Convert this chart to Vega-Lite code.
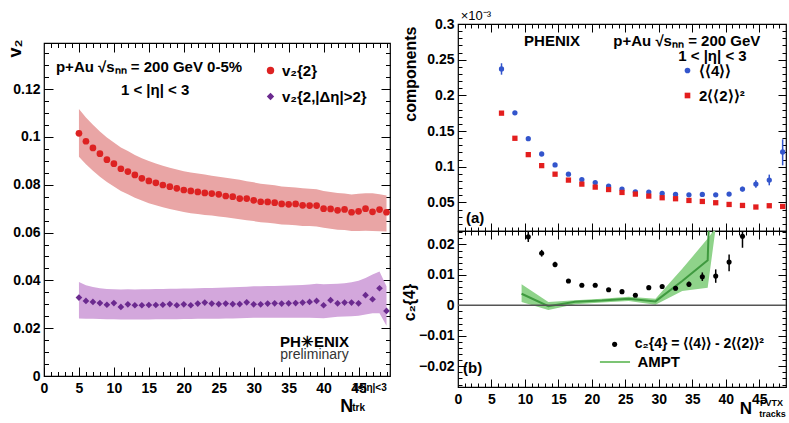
{
"$schema":"https://vega.github.io/schema/vega-lite/v6.json",
"background":"white",
"padding":{"left":5,"top":9,"right":0,"bottom":0},
"config":{
 "view":{"stroke":"#000","strokeWidth":1.2},
 "font":"Liberation Sans",
 "axis":{"domain":false,"grid":false,"tickColor":"#000","tickWidth":1,"labelFont":"Liberation Sans","labelFontSize":14,"labelFontWeight":"bold","labelColor":"#000","titleFont":"Liberation Sans","titleFontWeight":"bold","titleColor":"#000","titleFontSize":16,"labelFlush":false,"labelOverlap":false},
 "legend":{"labelFont":"Liberation Sans","labelFontSize":15,"labelFontWeight":"bold","labelColor":"#000","padding":0},
 "text":{"font":"Liberation Sans","fontWeight":"bold","fontSize":15,"color":"#000"}
},
"datasets":{
"v2":[
{"n":5,"s":"a","v":0.1015,"lo":0.0917,"hi":0.1117},{"n":6,"s":"a","v":0.0982,"lo":0.0886,"hi":0.1081},{"n":7,"s":"a","v":0.0954,"lo":0.0859,"hi":0.1051},{"n":8,"s":"a","v":0.0930,"lo":0.0834,"hi":0.1023},{"n":9,"s":"a","v":0.0905,"lo":0.0812,"hi":0.0998},{"n":10,"s":"a","v":0.0888,"lo":0.0793,"hi":0.0977},{"n":11,"s":"a","v":0.0867,"lo":0.0774,"hi":0.0956},{"n":12,"s":"a","v":0.0855,"lo":0.0760,"hi":0.0941},{"n":13,"s":"a","v":0.0841,"lo":0.0746,"hi":0.0925},{"n":14,"s":"a","v":0.0827,"lo":0.0734,"hi":0.0911},{"n":15,"s":"a","v":0.0816,"lo":0.0723,"hi":0.0899},{"n":16,"s":"a","v":0.0808,"lo":0.0714,"hi":0.0889},{"n":17,"s":"a","v":0.0799,"lo":0.0706,"hi":0.0879},{"n":18,"s":"a","v":0.0792,"lo":0.0699,"hi":0.0871},{"n":19,"s":"a","v":0.0785,"lo":0.0692,"hi":0.0864},{"n":20,"s":"a","v":0.0778,"lo":0.0686,"hi":0.0857},{"n":21,"s":"a","v":0.0774,"lo":0.0681,"hi":0.0851},{"n":22,"s":"a","v":0.0770,"lo":0.0678,"hi":0.0847},{"n":23,"s":"a","v":0.0766,"lo":0.0674,"hi":0.0843},{"n":24,"s":"a","v":0.0763,"lo":0.0671,"hi":0.0838},{"n":25,"s":"a","v":0.0760,"lo":0.0667,"hi":0.0834},{"n":26,"s":"a","v":0.0753,"lo":0.0664,"hi":0.0829},{"n":27,"s":"a","v":0.0750,"lo":0.0660,"hi":0.0825},{"n":28,"s":"a","v":0.0742,"lo":0.0656,"hi":0.0821},{"n":29,"s":"a","v":0.0742,"lo":0.0652,"hi":0.0815},{"n":30,"s":"a","v":0.0735,"lo":0.0648,"hi":0.0810},{"n":31,"s":"a","v":0.0729,"lo":0.0643,"hi":0.0804},{"n":32,"s":"a","v":0.0728,"lo":0.0641,"hi":0.0801},{"n":33,"s":"a","v":0.0725,"lo":0.0638,"hi":0.0798},{"n":34,"s":"a","v":0.0720,"lo":0.0634,"hi":0.0793},{"n":35,"s":"a","v":0.0718,"lo":0.0633,"hi":0.0791},{"n":36,"s":"a","v":0.0720,"lo":0.0631,"hi":0.0789},{"n":37,"s":"a","v":0.0714,"lo":0.0628,"hi":0.0785},{"n":38,"s":"a","v":0.0713,"lo":0.0627,"hi":0.0783},{"n":39,"s":"a","v":0.0713,"lo":0.0625,"hi":0.0781},{"n":40,"s":"a","v":0.0700,"lo":0.0620,"hi":0.0774},{"n":41,"s":"a","v":0.0699,"lo":0.0616,"hi":0.0770},{"n":42,"s":"a","v":0.0693,"lo":0.0612,"hi":0.0766},{"n":43,"s":"a","v":0.0697,"lo":0.0611,"hi":0.0763},{"n":44,"s":"a","v":0.0685,"lo":0.0607,"hi":0.0759},{"n":45,"s":"a","v":0.0689,"lo":0.0607,"hi":0.0762},{"n":46,"s":"a","v":0.0700,"lo":0.0608,"hi":0.0765},{"n":47,"s":"a","v":0.0687,"lo":0.0607,"hi":0.0764},{"n":48,"s":"a","v":0.0696,"lo":0.0606,"hi":0.0760},{"n":49,"s":"a","v":0.0685,"lo":0.0604,"hi":0.0755},
{"n":5,"s":"b","v":0.0328,"lo":0.0241,"hi":0.0393},{"n":6,"s":"b","v":0.0314,"lo":0.0240,"hi":0.0380},{"n":7,"s":"b","v":0.0310,"lo":0.0239,"hi":0.0372},{"n":8,"s":"b","v":0.0305,"lo":0.0238,"hi":0.0367},{"n":9,"s":"b","v":0.0298,"lo":0.0237,"hi":0.0364},{"n":10,"s":"b","v":0.0305,"lo":0.0237,"hi":0.0363},{"n":11,"s":"b","v":0.0289,"lo":0.0236,"hi":0.0362},{"n":12,"s":"b","v":0.0300,"lo":0.0236,"hi":0.0363},{"n":13,"s":"b","v":0.0296,"lo":0.0236,"hi":0.0362},{"n":14,"s":"b","v":0.0296,"lo":0.0236,"hi":0.0363},{"n":15,"s":"b","v":0.0297,"lo":0.0236,"hi":0.0363},{"n":16,"s":"b","v":0.0297,"lo":0.0237,"hi":0.0364},{"n":17,"s":"b","v":0.0298,"lo":0.0237,"hi":0.0364},{"n":18,"s":"b","v":0.0301,"lo":0.0237,"hi":0.0365},{"n":19,"s":"b","v":0.0296,"lo":0.0237,"hi":0.0365},{"n":20,"s":"b","v":0.0300,"lo":0.0238,"hi":0.0366},{"n":21,"s":"b","v":0.0296,"lo":0.0238,"hi":0.0366},{"n":22,"s":"b","v":0.0303,"lo":0.0239,"hi":0.0367},{"n":23,"s":"b","v":0.0307,"lo":0.0239,"hi":0.0368},{"n":24,"s":"b","v":0.0303,"lo":0.0240,"hi":0.0368},{"n":25,"s":"b","v":0.0301,"lo":0.0240,"hi":0.0369},{"n":26,"s":"b","v":0.0303,"lo":0.0241,"hi":0.0370},{"n":27,"s":"b","v":0.0301,"lo":0.0241,"hi":0.0371},{"n":28,"s":"b","v":0.0301,"lo":0.0242,"hi":0.0372},{"n":29,"s":"b","v":0.0308,"lo":0.0243,"hi":0.0373},{"n":30,"s":"b","v":0.0300,"lo":0.0244,"hi":0.0375},{"n":31,"s":"b","v":0.0300,"lo":0.0244,"hi":0.0375},{"n":32,"s":"b","v":0.0303,"lo":0.0244,"hi":0.0376},{"n":33,"s":"b","v":0.0304,"lo":0.0244,"hi":0.0377},{"n":34,"s":"b","v":0.0303,"lo":0.0244,"hi":0.0378},{"n":35,"s":"b","v":0.0304,"lo":0.0244,"hi":0.0379},{"n":36,"s":"b","v":0.0305,"lo":0.0244,"hi":0.0380},{"n":37,"s":"b","v":0.0307,"lo":0.0244,"hi":0.0381},{"n":38,"s":"b","v":0.0310,"lo":0.0244,"hi":0.0383},{"n":39,"s":"b","v":0.0314,"lo":0.0243,"hi":0.0386},{"n":40,"s":"b","v":0.0296,"lo":0.0242,"hi":0.0384},{"n":41,"s":"b","v":0.0317,"lo":0.0245,"hi":0.0385},{"n":42,"s":"b","v":0.0304,"lo":0.0248,"hi":0.0386},{"n":43,"s":"b","v":0.0307,"lo":0.0249,"hi":0.0388},{"n":44,"s":"b","v":0.0307,"lo":0.0250,"hi":0.0392},{"n":45,"s":"b","v":0.0304,"lo":0.0252,"hi":0.0398},{"n":46,"s":"b","v":0.0338,"lo":0.0257,"hi":0.0410},{"n":47,"s":"b","v":0.0321,"lo":0.0262,"hi":0.0425},{"n":48,"s":"b","v":0.0367,"lo":0.0262,"hi":0.0437},{"n":49,"s":"b","v":0.0272,"lo":0.0210,"hi":0.0375}
],
"comp":[
{"n":6.5,"s":"a","v":0.237,"lo":0.229,"hi":0.245},{"n":8.5,"s":"a","v":0.1756,"lo":0.173,"hi":0.178},{"n":10.5,"s":"a","v":0.1393},{"n":12.5,"s":"a","v":0.1179},{"n":14.5,"s":"a","v":0.1026},{"n":16.5,"s":"a","v":0.0896},{"n":18.5,"s":"a","v":0.0821},{"n":20.5,"s":"a","v":0.0779},{"n":22.5,"s":"a","v":0.0729},{"n":24.5,"s":"a","v":0.0687},{"n":26.5,"s":"a","v":0.0649},{"n":28.5,"s":"a","v":0.0645},{"n":30.5,"s":"a","v":0.0626},{"n":32.5,"s":"a","v":0.0612},{"n":34.5,"s":"a","v":0.0607},{"n":36.5,"s":"a","v":0.0613},{"n":38.5,"s":"a","v":0.0607},{"n":40.5,"s":"a","v":0.0617},{"n":42.5,"s":"a","v":0.0687,"lo":0.0655,"hi":0.072},{"n":44.5,"s":"a","v":0.0757,"lo":0.0705,"hi":0.081},{"n":46.5,"s":"a","v":0.0813,"lo":0.074,"hi":0.089},{"n":48.5,"s":"a","v":0.1207,"lo":0.102,"hi":0.1385},
{"n":6.5,"s":"b","v":0.1751},{"n":8.5,"s":"b","v":0.1399},{"n":10.5,"s":"b","v":0.117},{"n":12.5,"s":"b","v":0.1016},{"n":14.5,"s":"b","v":0.0896},{"n":16.5,"s":"b","v":0.0813},{"n":18.5,"s":"b","v":0.0757},{"n":20.5,"s":"b","v":0.0715},{"n":22.5,"s":"b","v":0.0681},{"n":24.5,"s":"b","v":0.064},{"n":26.5,"s":"b","v":0.0617},{"n":28.5,"s":"b","v":0.0589},{"n":30.5,"s":"b","v":0.0566},{"n":32.5,"s":"b","v":0.0552},{"n":34.5,"s":"b","v":0.0528},{"n":36.5,"s":"b","v":0.0514},{"n":38.5,"s":"b","v":0.0496},{"n":40.5,"s":"b","v":0.0472},{"n":42.5,"s":"b","v":0.0458},{"n":44.5,"s":"b","v":0.0436},{"n":46.5,"s":"b","v":0.0454},{"n":48.5,"s":"b","v":0.0444}
],
"c24":[
{"n":10.5,"v":0.0225,"lo":0.0208,"hi":0.0244},{"n":12.5,"v":0.0171,"lo":0.016,"hi":0.0182},{"n":14.5,"v":0.0134,"lo":0.0125,"hi":0.0143},{"n":16.5,"v":0.008,"lo":0.0075,"hi":0.0085},{"n":18.5,"v":0.0066},{"n":20.5,"v":0.0066},{"n":22.5,"v":0.0051},{"n":24.5,"v":0.0045},{"n":26.5,"v":0.0033},{"n":28.5,"v":0.0058},{"n":30.5,"v":0.0062},{"n":32.5,"v":0.0056,"lo":0.0049,"hi":0.0063},{"n":34.5,"v":0.0069,"lo":0.006,"hi":0.0078},{"n":36.5,"v":0.0094,"lo":0.008,"hi":0.0108},{"n":38.5,"v":0.0096,"lo":0.0074,"hi":0.0118},{"n":40.5,"v":0.0142,"lo":0.0112,"hi":0.0167},{"n":42.5,"v":0.0227,"lo":0.0189,"hi":0.026}
],
"ampt":[
{"n":9.5,"v":0.0038,"lo":0.0011,"hi":0.0069},{"n":13.5,"v":-0.0003,"lo":-0.0015,"hi":0.0011},{"n":17.5,"v":0.0012,"lo":0.0004,"hi":0.0017},{"n":21.5,"v":0.0016,"lo":0.0009,"hi":0.0022},{"n":25.5,"v":0.0022,"lo":0.0014,"hi":0.0028},{"n":29.5,"v":0.0013,"lo":0.0002,"hi":0.0022},{"n":33.5,"v":0.008,"lo":0.0047,"hi":0.012},{"n":37.3,"v":0.0148,"lo":0.0058,"hi":0.0219},{"n":37.6,"v":0.035},{"n":38.5,"lo":0.0255,"hi":0.0255}
]
},
"spacing":8,
"resolve":{"scale":{"color":"independent","shape":"independent"}},
"hconcat":[
{"spacing":0,"bounds":"flush","vconcat":[
 {"width":346,"height":19,"data":{"values":[]},"mark":"point","view":{"stroke":null}},
 {"width":346,"height":333,
  "resolve":{"axis":{"x":"independent","y":"independent"}},
  "layer":[
   {"data":{"name":"v2"},"transform":[{"filter":"datum.s=='b'"}],"mark":{"type":"area","color":"#d3a7dc","opacity":1,"clip":true},
    "encoding":{"x":{"field":"n","type":"quantitative","scale":{"domain":[0,49.5],"nice":false,"zero":false},"axis":{"orient":"bottom","values":[0,5,10,15,20,25,30,35,40,45],"ticks":false,"labelPadding":5,"title":null,"format":"~g"}},
     "y":{"field":"lo","type":"quantitative","scale":{"domain":[0,0.1393],"nice":false,"zero":false},"axis":{"orient":"left","values":[0,0.02,0.04,0.06,0.08,0.1,0.12],"ticks":false,"labelPadding":4,"format":"~g","title":"v₂","titleAngle":270,"titleX":-29,"titleY":-4,"titleAlign":"right","titleBaseline":"middle","titleFontSize":18}},
     "y2":{"field":"hi"}}},
   {"data":{"name":"v2"},"transform":[{"filter":"datum.s=='a'"}],"mark":{"type":"area","color":"#e9a5a5","opacity":1,"clip":true},
    "encoding":{"x":{"field":"n","type":"quantitative","axis":null},"y":{"field":"lo","type":"quantitative","axis":null},"y2":{"field":"hi"}}},
   {"data":{"name":"v2"},"mark":{"type":"point","filled":true,"opacity":1,"size":45},
    "encoding":{"x":{"field":"n","type":"quantitative","axis":{"orient":"bottom","values":[0,5,10,15,20,25,30,35,40,45],"labels":false,"tickSize":-9,"title":null}},
     "y":{"field":"v","type":"quantitative","axis":{"orient":"left","values":[0.02,0.04,0.06,0.08,0.1,0.12],"labels":false,"tickSize":-9,"title":null}},
     "color":{"field":"s","type":"nominal","scale":{"domain":["a","b"],"range":["#dd2222","#6b2a8f"]},"legend":{"title":null,"orient":"none","legendX":219,"legendY":39,"symbolSize":55,"rowPadding":10,"symbolStrokeWidth":0,"labelExpr":"datum.label=='a'?'v₂{2}':'v₂{2,|Δη|>2}'"}},
     "shape":{"field":"s","type":"nominal","scale":{"domain":["a","b"],"range":["circle","diamond"]},"legend":{"title":null,"orient":"none","legendX":219,"legendY":39,"symbolSize":55,"rowPadding":10,"symbolStrokeWidth":0,"labelExpr":"datum.label=='a'?'v₂{2}':'v₂{2,|Δη|>2}'"}}}},
   {"data":{"name":"v2"},"mark":{"type":"point","opacity":0},
    "encoding":{"x":{"field":"n","type":"quantitative","axis":{"orient":"bottom","values":[1,2,3,4,6,7,8,9,11,12,13,14,16,17,18,19,21,22,23,24,26,27,28,29,31,32,33,34,36,37,38,39,41,42,43,44,46,47,48,49],"labels":false,"tickSize":-4.5,"title":null}},
     "y":{"field":"v","type":"quantitative","axis":{"orient":"left","values":[0.005,0.01,0.015,0.025,0.03,0.035,0.045,0.05,0.055,0.065,0.07,0.075,0.085,0.09,0.095,0.105,0.11,0.115,0.125,0.13,0.135],"labels":false,"tickSize":-4.5,"title":null}}}},
   {"data":{"name":"v2"},"mark":{"type":"point","opacity":0},
    "encoding":{"x":{"field":"n","type":"quantitative","axis":{"orient":"top","values":[5,10,15,20,25,30,35,40,45],"labels":false,"tickSize":-9,"title":null}},
     "y":{"field":"v","type":"quantitative","axis":{"orient":"right","values":[0.02,0.04,0.06,0.08,0.1,0.12],"labels":false,"tickSize":-9,"title":null}}}},
   {"data":{"name":"v2"},"mark":{"type":"point","opacity":0},
    "encoding":{"x":{"field":"n","type":"quantitative","axis":{"orient":"top","values":[1,2,3,4,6,7,8,9,11,12,13,14,16,17,18,19,21,22,23,24,26,27,28,29,31,32,33,34,36,37,38,39,41,42,43,44,46,47,48,49],"labels":false,"tickSize":-4.5,"title":null}},
     "y":{"field":"v","type":"quantitative","axis":{"orient":"right","values":[0.005,0.01,0.015,0.025,0.03,0.035,0.045,0.05,0.055,0.065,0.07,0.075,0.085,0.09,0.095,0.105,0.11,0.115,0.125,0.13,0.135],"labels":false,"tickSize":-4.5,"title":null}}}},
   {"data":{"values":[{}]},"mark":{"type":"text","align":"left","baseline":"middle"},"encoding":{"x":{"datum":1.71,"type":"quantitative","axis":null},"y":{"datum":0.1293,"type":"quantitative","axis":null},"text":{"value":"p+Au  √sₙₙ = 200 GeV 0-5%"}}},
   {"data":{"values":[{}]},"mark":{"type":"text","align":"left","baseline":"middle"},"encoding":{"x":{"datum":11.0,"type":"quantitative","axis":null},"y":{"datum":0.1197,"type":"quantitative","axis":null},"text":{"value":"1 < |η| < 3"}}},
   {"data":{"values":[{}]},"mark":{"type":"text","align":"center","baseline":"middle","fontSize":15},"encoding":{"x":{"datum":38.7,"type":"quantitative","axis":null},"y":{"datum":0.0142,"type":"quantitative","axis":null},"text":{"value":"PH✳ENIX"}}},
   {"data":{"values":[{}]},"mark":{"type":"text","align":"center","baseline":"middle","fontSize":14,"fontWeight":"normal","color":"#333"},"encoding":{"x":{"datum":38.7,"type":"quantitative","axis":null},"y":{"datum":0.0088,"type":"quantitative","axis":null},"text":{"value":"preliminary"}}},
   {"data":{"values":[{}]},"mark":{"type":"text","align":"center","baseline":"alphabetic","fontSize":18},"encoding":{"x":{"datum":43.3,"type":"quantitative","axis":null},"y":{"datum":-0.0149,"type":"quantitative","axis":null},"text":{"value":"N"}}},
   {"data":{"values":[{}]},"mark":{"type":"text","align":"left","baseline":"middle","fontSize":10},"encoding":{"x":{"datum":44.1,"type":"quantitative","axis":null},"y":{"datum":-0.0052,"type":"quantitative","axis":null},"text":{"value":"1<|η|<3"}}},
   {"data":{"values":[{}]},"mark":{"type":"text","align":"left","baseline":"middle","fontSize":10},"encoding":{"x":{"datum":44.1,"type":"quantitative","axis":null},"y":{"datum":-0.0134,"type":"quantitative","axis":null},"text":{"value":"trk"}}}
  ]}
]},
{"spacing":0,"bounds":"flush","vconcat":[
 {"width":328,"height":207,
  "resolve":{"axis":{"x":"independent","y":"independent"}},
  "layer":[
   {"data":{"name":"comp"},"transform":[{"filter":"isValid(datum.lo)"}],"mark":{"type":"rule","color":"#3355cc","strokeWidth":1.5},
    "encoding":{"x":{"field":"n","type":"quantitative","scale":{"domain":[0,49],"nice":false,"zero":false},"axis":{"orient":"bottom","values":[1,2,3,4,6,7,8,9,11,12,13,14,16,17,18,19,21,22,23,24,26,27,28,29,31,32,33,34,36,37,38,39,41,42,43,44,46,47,48],"labels":false,"tickSize":-4,"title":null}},
     "y":{"field":"lo","type":"quantitative","scale":{"domain":[0.01,0.3],"nice":false,"zero":false},"axis":{"orient":"left","values":[0.05,0.1,0.15,0.2,0.25,0.2999],"ticks":false,"labelPadding":4,"labelExpr":"format(datum.value,'.2~f')","title":"components","titleAngle":270,"titleX":-48,"titleY":2,"titleAlign":"right","titleBaseline":"middle","titleFontSize":16}},
     "y2":{"field":"hi"}}},
   {"data":{"name":"comp"},"mark":{"type":"point","filled":true,"opacity":1,"size":28},
    "encoding":{"x":{"field":"n","type":"quantitative","axis":{"orient":"bottom","values":[5,10,15,20,25,30,35,40,45],"labels":false,"tickSize":-8,"title":null}},
     "y":{"field":"v","type":"quantitative","axis":{"orient":"left","values":[0.05,0.1,0.15,0.2,0.25],"labels":false,"tickSize":-8,"title":null}},
     "color":{"field":"s","type":"nominal","scale":{"domain":["a","b"],"range":["#3355cc","#e31e1e"]},"legend":{"title":null,"orient":"none","legendX":222,"legendY":39,"symbolSize":32,"rowPadding":9,"symbolStrokeWidth":0,"labelExpr":"datum.label=='a'?'⟨⟨4⟩⟩':'2⟨⟨2⟩⟩²'"}},
     "shape":{"field":"s","type":"nominal","scale":{"domain":["a","b"],"range":["circle","square"]},"legend":{"title":null,"orient":"none","legendX":222,"legendY":39,"symbolSize":32,"rowPadding":9,"symbolStrokeWidth":0,"labelExpr":"datum.label=='a'?'⟨⟨4⟩⟩':'2⟨⟨2⟩⟩²'"}}}},
   {"data":{"name":"comp"},"mark":{"type":"point","opacity":0},
    "encoding":{"x":{"field":"n","type":"quantitative","axis":{"orient":"top","values":[5,10,15,20,25,30,35,40,45],"labels":false,"tickSize":-8,"title":null}},
     "y":{"field":"v","type":"quantitative","axis":{"orient":"left","values":[0.02,0.03,0.04,0.06,0.07,0.08,0.09,0.11,0.12,0.13,0.14,0.16,0.17,0.18,0.19,0.21,0.22,0.23,0.24,0.26,0.27,0.28,0.29],"labels":false,"tickSize":-4,"title":null}}}},
   {"data":{"name":"comp"},"mark":{"type":"point","opacity":0},
    "encoding":{"x":{"field":"n","type":"quantitative","axis":{"orient":"top","values":[1,2,3,4,6,7,8,9,11,12,13,14,16,17,18,19,21,22,23,24,26,27,28,29,31,32,33,34,36,37,38,39,41,42,43,44,46,47,48],"labels":false,"tickSize":-4,"title":null}},
     "y":{"field":"v","type":"quantitative","axis":{"orient":"right","values":[0.05,0.1,0.15,0.2,0.25],"labels":false,"tickSize":-8,"title":null}}}},
   {"data":{"name":"comp"},"mark":{"type":"point","opacity":0},
    "encoding":{"x":{"field":"n","type":"quantitative","axis":null},
     "y":{"field":"v","type":"quantitative","axis":{"orient":"right","values":[0.02,0.03,0.04,0.06,0.07,0.08,0.09,0.11,0.12,0.13,0.14,0.16,0.17,0.18,0.19,0.21,0.22,0.23,0.24,0.26,0.27,0.28,0.29],"labels":false,"tickSize":-4,"title":null}}}},
   {"data":{"values":[{}]},"mark":{"type":"text","align":"left","baseline":"alphabetic","fontSize":13,"fontWeight":"normal"},"encoding":{"x":{"datum":0.4,"type":"quantitative","axis":null},"y":{"datum":0.3056,"type":"quantitative","axis":null},"text":{"value":"×10⁻³"}}},
   {"data":{"values":[{}]},"mark":{"type":"text","align":"left","baseline":"middle"},"encoding":{"x":{"datum":9.87,"type":"quantitative","axis":null},"y":{"datum":0.2762,"type":"quantitative","axis":null},"text":{"value":"PHENIX"}}},
   {"data":{"values":[{}]},"mark":{"type":"text","align":"left","baseline":"middle"},"encoding":{"x":{"datum":23.2,"type":"quantitative","axis":null},"y":{"datum":0.2762,"type":"quantitative","axis":null},"text":{"value":"p+Au  √sₙₙ = 200 GeV"}}},
   {"data":{"values":[{}]},"mark":{"type":"text","align":"left","baseline":"middle"},"encoding":{"x":{"datum":32.9,"type":"quantitative","axis":null},"y":{"datum":0.2552,"type":"quantitative","axis":null},"text":{"value":"1 < |η| < 3"}}},
   {"data":{"values":[{}]},"mark":{"type":"text","align":"left","baseline":"middle"},"encoding":{"x":{"datum":1.2,"type":"quantitative","axis":null},"y":{"datum":0.0282,"type":"quantitative","axis":null},"text":{"value":"(a)"}}}
  ]},
 {"width":328,"height":156,
  "resolve":{"axis":{"x":"independent","y":"independent"}},
  "layer":[
   {"data":{"name":"ampt"},"transform":[{"filter":"isValid(datum.lo)"}],"mark":{"type":"area","color":"#8fd38a","opacity":1,"clip":true},
    "encoding":{"x":{"field":"n","type":"quantitative","scale":{"domain":[0,49],"nice":false,"zero":false},"axis":{"orient":"bottom","values":[0,5,10,15,20,25,30,35,40,45],"ticks":false,"labelPadding":5,"title":null,"format":"~g"}},
     "y":{"field":"lo","type":"quantitative","scale":{"domain":[-0.0268,0.0244],"nice":false,"zero":false},"axis":{"orient":"left","values":[-0.02,-0.01,0,0.01,0.02],"ticks":false,"labelPadding":4,"format":"~g","title":"c₂{4}","titleAngle":270,"titleX":-49,"titleY":71,"titleAlign":"center","titleBaseline":"middle","titleFontSize":16}},
     "y2":{"field":"hi"}}},
   {"data":{"name":"ampt"},"transform":[{"filter":"isValid(datum.v)"}],"mark":{"type":"line","color":"#3f9a3f","strokeWidth":2,"clip":true},
    "encoding":{"x":{"field":"n","type":"quantitative","axis":{"orient":"bottom","values":[5,10,15,20,25,30,35,40,45],"labels":false,"tickSize":-8,"title":null}},
     "y":{"field":"v","type":"quantitative","axis":{"orient":"left","values":[-0.02,-0.01,0,0.01,0.02],"labels":false,"tickSize":-8,"title":null}}}},
   {"data":{"values":[{}]},"mark":{"type":"rule","color":"#555","strokeWidth":1.5},"encoding":{"y":{"datum":0,"type":"quantitative","axis":null}}},
   {"data":{"name":"c24"},"transform":[{"filter":"isValid(datum.lo)"}],"mark":{"type":"rule","color":"#000","strokeWidth":1.5,"clip":true},
    "encoding":{"x":{"field":"n","type":"quantitative","axis":{"orient":"bottom","values":[1,2,3,4,6,7,8,9,11,12,13,14,16,17,18,19,21,22,23,24,26,27,28,29,31,32,33,34,36,37,38,39,41,42,43,44,46,47,48],"labels":false,"tickSize":-4,"title":null}},
     "y":{"field":"lo","type":"quantitative","axis":{"orient":"left","values":[-0.026,-0.024,-0.022,-0.018,-0.016,-0.014,-0.012,-0.008,-0.006,-0.004,-0.002,0.002,0.004,0.006,0.008,0.012,0.014,0.016,0.018,0.022,0.024],"labels":false,"tickSize":-4,"title":null}},
     "y2":{"field":"hi"}}},
   {"data":{"name":"c24"},"mark":{"type":"point","filled":true,"opacity":1,"size":26,"color":"#000"},
    "encoding":{"x":{"field":"n","type":"quantitative","axis":{"orient":"top","values":[5,10,15,20,25,30,35,40,45],"labels":false,"tickSize":-8,"title":null}},
     "y":{"field":"v","type":"quantitative","axis":{"orient":"right","values":[-0.02,-0.01,0,0.01,0.02],"labels":false,"tickSize":-8,"title":null}}}},
   {"data":{"name":"c24"},"mark":{"type":"point","opacity":0},
    "encoding":{"x":{"field":"n","type":"quantitative","axis":{"orient":"top","values":[1,2,3,4,6,7,8,9,11,12,13,14,16,17,18,19,21,22,23,24,26,27,28,29,31,32,33,34,36,37,38,39,41,42,43,44,46,47,48],"labels":false,"tickSize":-4,"title":null}},
     "y":{"field":"v","type":"quantitative","axis":{"orient":"right","values":[-0.026,-0.024,-0.022,-0.018,-0.016,-0.014,-0.012,-0.008,-0.006,-0.004,-0.002,0.002,0.004,0.006,0.008,0.012,0.014,0.016,0.018,0.022,0.024],"labels":false,"tickSize":-4,"title":null}}}},
   {"data":{"values":[{}]},"mark":{"type":"text","align":"left","baseline":"middle"},"encoding":{"x":{"datum":0.75,"type":"quantitative","axis":null},"y":{"datum":-0.0207,"type":"quantitative","axis":null},"text":{"value":"(b)"}}},
   {"data":{"values":[{}]},"mark":{"type":"point","filled":true,"opacity":1,"size":26,"color":"#000"},"encoding":{"x":{"datum":23.4,"type":"quantitative","axis":null},"y":{"datum":-0.0128,"type":"quantitative","axis":null}}},
   {"data":{"values":[{}]},"mark":{"type":"text","align":"left","baseline":"middle","fontSize":14},"encoding":{"x":{"datum":26.4,"type":"quantitative","axis":null},"y":{"datum":-0.0127,"type":"quantitative","axis":null},"text":{"value":"c₂{4} = ⟨⟨4⟩⟩ - 2⟨⟨2⟩⟩²"}}},
   {"data":{"values":[{}]},"mark":{"type":"rule","color":"#7cc474","strokeWidth":2},"encoding":{"x":{"datum":21.2,"type":"quantitative","axis":null},"x2":{"datum":25.7},"y":{"datum":-0.0186,"type":"quantitative","axis":null}}},
   {"data":{"values":[{}]},"mark":{"type":"text","align":"left","baseline":"middle"},"encoding":{"x":{"datum":26.8,"type":"quantitative","axis":null},"y":{"datum":-0.0186,"type":"quantitative","axis":null},"text":{"value":"AMPT"}}},
   {"data":{"values":[{}]},"mark":{"type":"text","align":"center","baseline":"alphabetic","fontSize":17},"encoding":{"x":{"datum":43.0,"type":"quantitative","axis":null},"y":{"datum":-0.0357,"type":"quantitative","axis":null},"text":{"value":"N"}}},
   {"data":{"values":[{}]},"mark":{"type":"text","align":"left","baseline":"middle","fontSize":9},"encoding":{"x":{"datum":45.1,"type":"quantitative","axis":null},"y":{"datum":-0.0322,"type":"quantitative","axis":null},"text":{"value":"FVTX"}}},
   {"data":{"values":[{}]},"mark":{"type":"text","align":"left","baseline":"middle","fontSize":9},"encoding":{"x":{"datum":45.0,"type":"quantitative","axis":null},"y":{"datum":-0.0356,"type":"quantitative","axis":null},"text":{"value":"tracks"}}}
  ]}
]}
]
}
